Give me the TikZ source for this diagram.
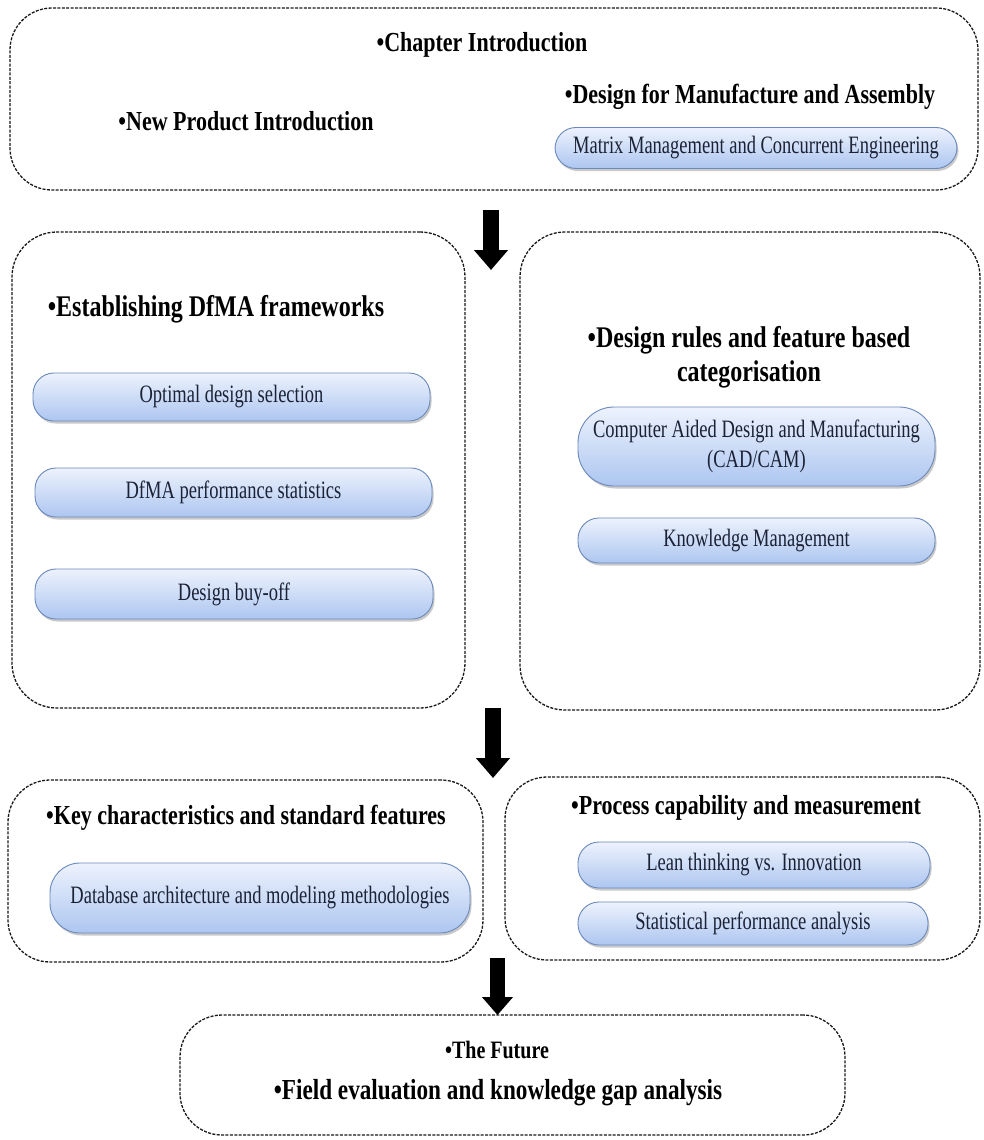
\documentclass[tikz,border=0pt]{standalone}
\usepackage{fontspec}
\setmainfont{Liberation Serif}
\newfontfamily\headfont{Liberation Serif}[FakeStretch=0.8]
\newfontfamily\pillfont{Liberation Serif}[FakeStretch=0.74]
\usetikzlibrary{shadows,arrows.meta}

\definecolor{pillline}{HTML}{6A89BC}
\definecolor{pilltop}{HTML}{EDF2FD}
\definecolor{pillbot}{HTML}{ADC6F0}
\definecolor{pilltext}{HTML}{1B2236}

\begin{document}
\begin{tikzpicture}[x=1pt,y=-1pt,
  frame/.style={draw=black!90, line width=1.3pt, dash pattern=on 3pt off 1.4pt,
    rounded corners=42pt, fill=white, inner sep=0pt, outer sep=0pt, anchor=north west},
  pill/.style={draw=pillline, line width=0.9pt, rounded corners=21pt,
    top color=pilltop, bottom color=pillbot,
    drop shadow={shadow xshift=1.5pt, shadow yshift=-2.5pt, opacity=0.35, fill=black!60},
    font=\pillfont\fontsize{25}{30}\selectfont, text=pilltext, align=center, inner sep=0pt},
  head/.style={font=\headfont\bfseries\fontsize{27.5}{31}\selectfont, text=black, align=center, inner sep=0pt},
  bighead/.style={head, font=\headfont\bfseries\fontsize{30}{34}\selectfont},
  bigarrow/.style={line width=16pt, black, -{Triangle[width=33pt,length=20pt]}}
]
\useasboundingbox (0,0) rectangle (984,1140);

% ---------- introduction ----------
\node[frame, minimum width=968pt, minimum height=182pt] (intro) at (10,8) {};
\node[head] (chap) at (482,45) {•Chapter Introduction};
\node[head] (npi) at (246,121) {•New Product Introduction};
\node[head] (dfma) at (750,97) {•Design for Manufacture and Assembly};
\node[pill, minimum width=402pt, minimum height=41pt] (matrix) at (756,148)
  {Matrix Management and Concurrent Engineering};

% ---------- frameworks and design rules ----------
\node[frame, rounded corners=45pt, minimum width=453pt, minimum height=476pt] (frame2l) at (12,232) {};
\node[frame, rounded corners=45pt, minimum width=460pt, minimum height=478pt] (frame2r) at (520,232) {};

\node[bighead] (estab) at (216,309) {•Establishing DfMA frameworks};
\node[pill, minimum width=397pt, minimum height=48pt] (optimal) at (231.5,397) {Optimal design selection};
\node[pill, minimum width=397pt, minimum height=49pt] (perf) at (233.5,492.5) {DfMA performance statistics};
\node[pill, minimum width=398pt, minimum height=50pt] (buyoff) at (234,594) {Design buy-off};

\node[bighead] (rules) at (749,357) {•Design rules and feature based\\categorisation};
\node[pill, rounded corners=36pt, minimum width=357pt, minimum height=79pt] (cad) at (756.5,446.5)
  {Computer Aided Design and Manufacturing\\(CAD/CAM)};
\node[pill, minimum width=357pt, minimum height=45pt] (km) at (756.5,540.5) {Knowledge Management};

% ---------- characteristics and capability ----------
\node[frame, minimum width=475pt, minimum height=182pt] (frame3l) at (8,780) {};
\node[frame, minimum width=475pt, minimum height=183pt] (frame3r) at (505,777) {};

\node[head] (keych) at (246,818) {•Key characteristics and standard features};
\node[pill, rounded corners=30pt, minimum width=420pt, minimum height=70pt] (dbase) at (260,898)
  {Database architecture and modeling methodologies};

\node[head] (proc) at (746,808) {•Process capability and measurement};
\node[pill, minimum width=352pt, minimum height=46pt] (lean) at (754,865) {Lean thinking vs. Innovation};
\node[pill, minimum width=350pt, minimum height=43pt] (stat) at (753,923.5) {Statistical performance analysis};

% ---------- future ----------
\node[frame, minimum width=665pt, minimum height=120pt] (future) at (180,1015) {};
\node[head, font=\headfont\bfseries\fontsize{25}{29}\selectfont] (thefut) at (497,1050) {•The Future};
\node[head, font=\headfont\bfseries\fontsize{29}{33}\selectfont] (field) at (498,1093)
  {•Field evaluation and knowledge gap analysis};

% ---------- flow arrows ----------
\coordinate (a1s) at (491,210);  \coordinate (a1e) at (491,270);
\coordinate (a2s) at (493,708);  \coordinate (a2e) at (493,778);
\coordinate (a3s) at (497.5,958); \coordinate (a3e) at (497.5,1015);
\draw[bigarrow] (a1s) -- (a1e);
\draw[bigarrow] (a2s) -- (a2e);
\draw[bigarrow, line width=15pt, -{Triangle[width=30pt,length=18pt]}] (a3s) -- (a3e);
\end{tikzpicture}
\end{document}
